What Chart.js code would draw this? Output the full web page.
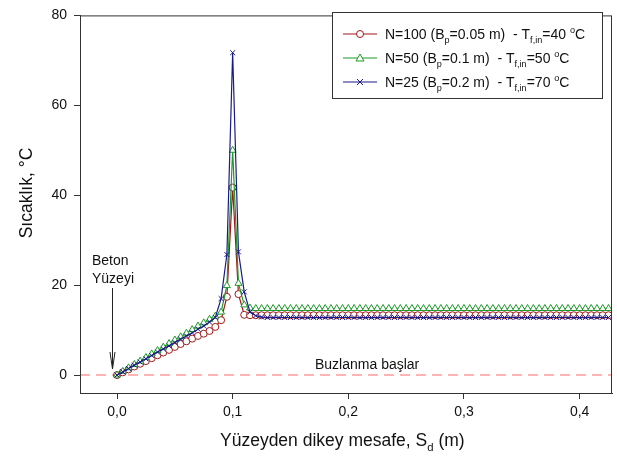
<!DOCTYPE html>
<html>
<head>
<meta charset="utf-8">
<script src="https://cdn.jsdelivr.net/npm/chart.js@4.4.1/dist/chart.umd.min.js"></script>
<style>
  html, body { margin: 0; padding: 0; background: #fff; }
  #wrap { width: 617px; height: 464px; }
</style>
</head>
<body>
<div id="wrap"><canvas id="chart" width="617" height="464"></canvas></div>
<script>
// distance from surface (m)
const sd = [
  0, 0.005, 0.01, 0.015, 0.02, 0.025, 0.03, 0.035, 0.04, 0.045,
  0.05, 0.055, 0.06, 0.065, 0.07, 0.075, 0.08, 0.085, 0.09, 0.095,
  0.1, 0.105, 0.11, 0.115, 0.12, 0.125, 0.13, 0.135, 0.14, 0.145,
  0.15, 0.155, 0.16, 0.165, 0.17, 0.175, 0.18, 0.185, 0.19, 0.195,
  0.2, 0.205, 0.21, 0.215, 0.22, 0.225, 0.23, 0.235, 0.24, 0.245,
  0.25, 0.255, 0.26, 0.265, 0.27, 0.275, 0.28, 0.285, 0.29, 0.295,
  0.3, 0.305, 0.31, 0.315, 0.32, 0.325, 0.33, 0.335, 0.34, 0.345,
  0.35, 0.355, 0.36, 0.365, 0.37, 0.375, 0.38, 0.385, 0.39, 0.395,
  0.4, 0.405, 0.41, 0.415, 0.42, 0.425
];

// N=100 (Bp=0.05 m), Tf,in=40 C
const tempN100 = [
  0, 0.6, 1.25, 1.9, 2.5, 3.1, 3.75, 4.4, 5.0, 5.6,
  6.25, 6.9, 7.5, 8.1, 8.7, 9.2, 9.8, 10.7, 12.2, 17.4,
  41.7, 18.0, 13.4, 13.3, 13.3, 13.3, 13.3, 13.3, 13.3, 13.3,
  13.3, 13.3, 13.3, 13.3, 13.3, 13.3, 13.3, 13.3, 13.3, 13.3,
  13.3, 13.3, 13.3, 13.3, 13.3, 13.3, 13.3, 13.3, 13.3, 13.3,
  13.3, 13.3, 13.3, 13.3, 13.3, 13.3, 13.3, 13.3, 13.3, 13.3,
  13.3, 13.3, 13.3, 13.3, 13.3, 13.3, 13.3, 13.3, 13.3, 13.3,
  13.3, 13.3, 13.3, 13.3, 13.3, 13.3, 13.3, 13.3, 13.3, 13.3,
  13.3, 13.3, 13.3, 13.3, 13.3, 13.3
];

// N=50 (Bp=0.1 m), Tf,in=50 C
const tempN50 = [
  0, 0.8, 1.6, 2.35, 3.1, 3.9, 4.7, 5.45, 6.2, 7.0,
  7.8, 8.5, 9.3, 10.1, 10.9, 11.6, 12.4, 13.1, 14.0, 19.9,
  50.0, 20.4, 15.6, 14.9, 14.8, 14.8, 14.8, 14.8, 14.8, 14.8,
  14.8, 14.8, 14.8, 14.8, 14.8, 14.8, 14.8, 14.8, 14.8, 14.8,
  14.8, 14.8, 14.8, 14.8, 14.8, 14.8, 14.8, 14.8, 14.8, 14.8,
  14.8, 14.8, 14.8, 14.8, 14.8, 14.8, 14.8, 14.8, 14.8, 14.8,
  14.8, 14.8, 14.8, 14.8, 14.8, 14.8, 14.8, 14.8, 14.8, 14.8,
  14.8, 14.8, 14.8, 14.8, 14.8, 14.8, 14.8, 14.8, 14.8, 14.8,
  14.8, 14.8, 14.8, 14.8, 14.8, 14.8
];

// N=25 (Bp=0.2 m), Tf,in=70 C
const tempN25 = [
  0, 0.7, 1.45, 2.2, 2.9, 3.6, 4.35, 5.1, 5.8, 6.5,
  7.25, 8.0, 8.7, 9.4, 10.2, 10.9, 11.8, 12.8, 17.0, 26.8,
  71.7, 27.4, 18.5, 14.0, 13.2, 12.9, 12.8, 12.8, 12.8, 12.8,
  12.8, 12.8, 12.8, 12.8, 12.8, 12.8, 12.8, 12.8, 12.8, 12.8,
  12.8, 12.8, 12.8, 12.8, 12.8, 12.8, 12.8, 12.8, 12.8, 12.8,
  12.8, 12.8, 12.8, 12.8, 12.8, 12.8, 12.8, 12.8, 12.8, 12.8,
  12.8, 12.8, 12.8, 12.8, 12.8, 12.8, 12.8, 12.8, 12.8, 12.8,
  12.8, 12.8, 12.8, 12.8, 12.8, 12.8, 12.8, 12.8, 12.8, 12.8,
  12.8, 12.8, 12.8, 12.8, 12.8, 12.8
];

const xTicks = [0, 0.1, 0.2, 0.3, 0.4];
const yTicks = [0, 20, 40, 60, 80];

const FONT = '"Liberation Sans", Arial, sans-serif';
const RED = '#a01818';
const GREEN = '#1f9a2a';
const BLUE = '#1a1a88';

const toPts = (ys) => sd.map((x, i) => ({ x: x, y: ys[i] }));

// draws text made of normal / sub / sup pieces, returns end x
function richText(ctx, parts, x, y, size) {
  parts.forEach(p => {
    let fs = size, dy = 0;
    if (p.s === 'sub') { fs = size * 0.65; dy = size * 0.3; }
    if (p.s === 'sup') { fs = size * 0.65; dy = -size * 0.4; }
    ctx.font = fs + 'px ' + FONT;
    ctx.fillText(p.t, x, y + dy);
    x += ctx.measureText(p.t).width;
  });
  return x;
}

const legendRows = [
  { color: RED, style: 'circle', parts: [{ t: 'N=100 (B' }, { t: 'p', s: 'sub' }, { t: '=0.05 m)  - T' }, { t: 'f,in', s: 'sub' }, { t: '=40 ' }, { t: 'o', s: 'sup' }, { t: 'C' }] },
  { color: GREEN, style: 'triangle', parts: [{ t: 'N=50 (B' }, { t: 'p', s: 'sub' }, { t: '=0.1 m)  - T' }, { t: 'f,in', s: 'sub' }, { t: '=50 ' }, { t: 'o', s: 'sup' }, { t: 'C' }] },
  { color: BLUE, style: 'crossRot', parts: [{ t: 'N=25 (B' }, { t: 'p', s: 'sub' }, { t: '=0.2 m)  - T' }, { t: 'f,in', s: 'sub' }, { t: '=70 ' }, { t: 'o', s: 'sup' }, { t: 'C' }] }
];

const decorPlugin = {
  id: 'decor',
  beforeDatasetsDraw(chart) {
    const { ctx, chartArea: a, scales } = chart;
    // freezing line at 0 C
    const y0 = scales.y.getPixelForValue(0);
    ctx.save();
    ctx.strokeStyle = '#ff9a9a';
    ctx.lineWidth = 1.5;
    ctx.setLineDash([10, 6]);
    ctx.beginPath();
    ctx.moveTo(a.left, y0);
    ctx.lineTo(a.right, y0);
    ctx.stroke();
    ctx.restore();
  },
  afterDraw(chart) {
    const { ctx, chartArea: a } = chart;
    ctx.save();
    // frame
    ctx.strokeStyle = '#333';
    ctx.lineWidth = 1;
    ctx.strokeRect(a.left + 0.5, a.top + 0.5, a.right - a.left - 1, a.bottom - a.top);

    ctx.fillStyle = '#111';
    ctx.textBaseline = 'alphabetic';

    // annotations
    ctx.font = '14px ' + FONT;
    ctx.textAlign = 'left';
    ctx.fillText('Beton', 92, 265);
    ctx.fillText('Yüzeyi', 92, 283);
    ctx.fillText('Buzlanma başlar', 315, 369);

    // arrow to concrete surface
    ctx.strokeStyle = '#222';
    ctx.beginPath();
    ctx.moveTo(112.5, 288);
    ctx.lineTo(112.5, 369);
    ctx.moveTo(110, 352);
    ctx.lineTo(112.5, 369);
    ctx.lineTo(115, 352);
    ctx.stroke();

    // axis titles
    ctx.font = '17.5px ' + FONT;
    ctx.save();
    ctx.translate(32, 193);
    ctx.rotate(-Math.PI / 2);
    ctx.textAlign = 'center';
    ctx.fillText('Sıcaklık, °C', 0, 0);
    ctx.restore();

    ctx.textAlign = 'left';
    richText(ctx, [{ t: 'Yüzeyden dikey mesafe, S' }, { t: 'd', s: 'sub' }, { t: ' (m)' }], 220, 446, 17.5);

    // legend
    ctx.fillStyle = '#fff';
    ctx.fillRect(332, 12, 270, 86);
    ctx.strokeStyle = '#333';
    ctx.strokeRect(332.5, 12.5, 270, 86);
    legendRows.forEach((r, i) => {
      const cy = 34 + i * 24;
      ctx.strokeStyle = r.color;
      ctx.lineWidth = 1.2;
      ctx.beginPath();
      ctx.moveTo(343, cy);
      ctx.lineTo(377, cy);
      ctx.stroke();
      ctx.lineWidth = 1;
      ctx.fillStyle = '#fff';
      ctx.beginPath();
      if (r.style === 'circle') { ctx.arc(360, cy, 3.5, 0, Math.PI * 2); ctx.fill(); ctx.stroke(); }
      if (r.style === 'triangle') { ctx.moveTo(360, cy - 4); ctx.lineTo(364, cy + 3); ctx.lineTo(356, cy + 3); ctx.closePath(); ctx.fill(); ctx.stroke(); }
      if (r.style === 'crossRot') { ctx.moveTo(357, cy - 3); ctx.lineTo(363, cy + 3); ctx.moveTo(363, cy - 3); ctx.lineTo(357, cy + 3); ctx.stroke(); }
      ctx.fillStyle = '#111';
      ctx.textAlign = 'left';
      richText(ctx, r.parts, 385, cy + 5, 14);
    });
    ctx.restore();
  }
};

const mkSet = (label, data, color, style, radius, order) => ({
  label: label,
  data: toPts(data),
  order: order,
  borderColor: color,
  backgroundColor: '#fff',
  borderWidth: 1.2,
  pointStyle: style,
  pointRadius: radius,
  pointBorderColor: color,
  pointBackgroundColor: '#fff',
  pointBorderWidth: 1,
  tension: 0
});

new Chart(document.getElementById('chart'), {
  type: 'line',
  data: {
    datasets: [
      mkSet('N=100', tempN100, RED, 'circle', 3.5, 3),
      mkSet('N=50', tempN50, GREEN, 'triangle', 4, 2),
      mkSet('N=25', tempN25, BLUE, 'crossRot', 3.5, 1)
    ]
  },
  options: {
    responsive: false,
    animation: false,
    layout: { padding: { top: 8, right: 2, left: 0, bottom: 0 } },
    plugins: { legend: { display: false }, tooltip: { enabled: false } },
    scales: {
      x: {
        type: 'linear',
        min: -0.032,
        max: 0.428,
        afterBuildTicks: (s) => { s.ticks = xTicks.map(v => ({ value: v })); },
        afterFit: (s) => { s.height = 71; },
        grid: { drawOnChartArea: false, drawTicks: true, tickLength: 6, color: '#333' },
        border: { display: true, color: '#333' },
        ticks: {
          color: '#111',
          padding: 5,
          maxRotation: 0,
          font: { family: FONT, size: 14 },
          callback: (v) => v.toFixed(1).replace('.', ',')
        }
      },
      y: {
        min: -4,
        max: 80,
        afterBuildTicks: (s) => { s.ticks = yTicks.map(v => ({ value: v })); },
        afterFit: (s) => { s.width = 80; },
        grid: { drawOnChartArea: false, drawTicks: true, tickLength: 6, color: '#333' },
        border: { display: true, color: '#333' },
        ticks: {
          color: '#111',
          padding: 7,
          font: { family: FONT, size: 14 },
          callback: (v) => String(v)
        }
      }
    }
  },
  plugins: [decorPlugin]
});
</script>
</body>
</html>
